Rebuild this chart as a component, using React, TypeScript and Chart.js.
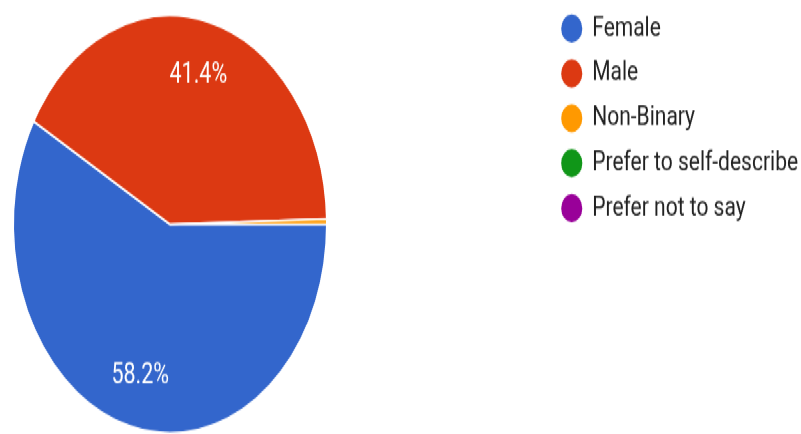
import React, { useEffect, useRef } from "react";
import { Chart, registerables } from "chart.js";

Chart.register(...registerables);

// ---- data ----
const categories = [
  "Female",
  "Male",
  "Non-Binary",
  "Prefer to self-describe",
  "Prefer not to say",
];
const shares = [58.2, 41.4, 0.4, 0, 0];
const sliceColors = ["#3366cc", "#dc3912", "#ff9900", "#109618", "#990099"];

// ---- layout ----
const WIDTH = 801;
const LOGICAL_HEIGHT = 326;
const OUT_HEIGHT = 434;
const STRETCH = OUT_HEIGHT / LOGICAL_HEIGHT;

const sliceLabelPlugin = {
  id: "sliceLabels",
  afterDatasetsDraw(chart: any) {
    const meta = chart.getDatasetMeta(0);
    const data = chart.data.datasets[0].data as number[];
    const total = data.reduce((a: number, b: number) => a + b, 0);
    const ctx = chart.ctx as CanvasRenderingContext2D;
    ctx.save();
    ctx.font = "21.5px Roboto";
    ctx.fillStyle = "#ffffff";
    ctx.textAlign = "center";
    ctx.textBaseline = "middle";
    meta.data.forEach((arc: any, i: number) => {
      const pct = (data[i] / total) * 100;
      if (pct < 5) return;
      const p = arc.getProps(["x", "y", "startAngle", "endAngle", "outerRadius"], true);
      const mid = (p.startAngle + p.endAngle) / 2;
      const r = p.outerRadius * 0.745;
      ctx.fillText(pct.toFixed(1) + "%", p.x + Math.cos(mid) * r, p.y + Math.sin(mid) * r + 1);
    });
    ctx.restore();
  },
};

const legendPlacePlugin = {
  id: "legendPlace",
  beforeDraw(chart: any) {
    const lg = chart.legend;
    if (!lg) return;
    lg.left = 549;
    lg.right = WIDTH;
    lg.top = -1.85;
    lg.bottom = LOGICAL_HEIGHT;
  },
};

export default function App() {
  const ref = useRef<HTMLCanvasElement>(null);

  useEffect(() => {
    if (!ref.current) return;
    const chart = new Chart(ref.current, {
      type: "pie",
      data: {
        labels: categories,
        datasets: [
          {
            data: shares,
            backgroundColor: sliceColors,
            borderColor: "#ffffff",
            borderWidth: 1.5,
          },
        ],
      },
      options: {
        animation: false,
        responsive: false,
        events: [],
        rotation: 90,
        layout: { padding: { left: 12.5, top: 11, right: 473.5, bottom: 0 } },
        plugins: {
          legend: {
            position: "chartArea",
            align: "start",
            labels: {
              usePointStyle: true,
              pointStyle: "circle",
              boxWidth: 20,
              boxHeight: 16,
              padding: 12.75,
              color: "#212121",
              font: { family: "Roboto", size: 21 },
            },
          },
          tooltip: { enabled: false },
        },
      } as any,
      plugins: [sliceLabelPlugin, legendPlacePlugin],
    });
    return () => chart.destroy();
  }, []);

  return (
    <div
      style={{
        position: "absolute",
        left: 0,
        top: 0,
        width: WIDTH,
        height: LOGICAL_HEIGHT,
        transform: `scaleY(${STRETCH})`,
        transformOrigin: "0 0",
        background: "#ffffff",
      }}
    >
      <canvas
        ref={ref}
        width={WIDTH}
        height={LOGICAL_HEIGHT}
        style={{ display: "block", width: WIDTH, height: LOGICAL_HEIGHT }}
      />
    </div>
  );
}
